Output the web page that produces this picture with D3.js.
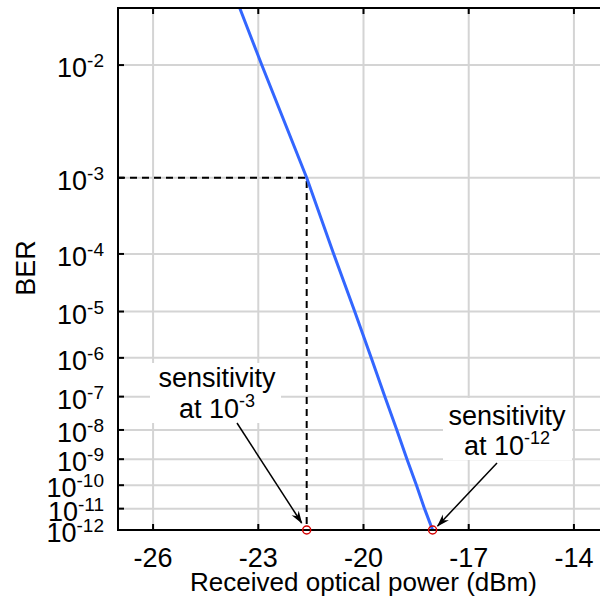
<!DOCTYPE html>
<html>
<head>
<meta charset="utf-8">
<script src="https://cdn.jsdelivr.net/npm/d3@7/dist/d3.min.js"></script>
<style>
    body { margin: 0; background: #fff; }
    text { font-family: Arial, "Liberation Sans", sans-serif; fill: #000; }
</style>
</head>
<body>
<div id="chart"></div>
<script>

// BER curve (BER = 10^-berExp)
const powerDbm = [-23.53, -22.90, -21.62, -20.85, -20.25, -19.78, -19.39, -19.05, -18.76, -18.49, -18.26, -18.03]
const berExp = [1.648, 2, 3, 4, 5, 6, 7, 8, 9, 10, 11, 12]

// sensitivity points (power at BER = 10^-sensExp)
const sensPower = [-21.62, -18.03]
const sensExp = [3, 12]
const sensLabels = ['-3', '-12']

// axes
const xTicks = [-26, -23, -20, -17, -14]
const xDomain = [-27, -13]
const yTickExp = [2, 3, 4, 5, 6, 7, 8, 9, 10, 11, 12]
const yTopExp = 1.648
const yBottomExp = 12

let margin = {top: 8, left: 118, bottom: 75}
let width = 491
let height = 605 - margin.top - margin.bottom

let svg = d3.select('#chart').append('svg')
    .attr('width', 600)
    .attr('height', 605)

let g = svg.append('g')
    .attr('transform', `translate(${margin.left}, ${margin.top})`)

// y is drawn on a log(-log(BER)) style scale
const tf = k => Math.log10(k - 0.35)

let x = d3.scaleLinear().domain(xDomain).range([0, width])
let y = d3.scaleLinear().domain([tf(yTopExp), tf(yBottomExp)]).range([0, height])
let yb = k => y(tf(k))

let defs = svg.append('defs')

defs.append('clipPath')
    .attr('id', 'plotClip')
    .append('rect')
    .attr('width', width)
    .attr('height', height)

defs.append('marker')
    .attr('id', 'arrow')
    .attr('viewBox', '0 0 13 10')
    .attr('refX', 12)
    .attr('refY', 5)
    .attr('markerWidth', 13)
    .attr('markerHeight', 10)
    .attr('markerUnits', 'userSpaceOnUse')
    .attr('orient', 'auto')
    .append('path')
    .attr('d', 'M0,0.8 L13,5 L0,9.2 L4,5 Z')
    .attr('fill', '#000')

// grid
g.selectAll('.vgrid').data(xTicks).enter().append('line')
    .attr('class', 'vgrid')
    .attr('x1', d => x(d)).attr('x2', d => x(d))
    .attr('y1', 0).attr('y2', height)
    .attr('stroke', '#d4d4d4').attr('stroke-width', 2)

g.selectAll('.hgrid').data(yTickExp).enter().append('line')
    .attr('class', 'hgrid')
    .attr('x1', 0).attr('x2', width)
    .attr('y1', d => yb(d)).attr('y2', d => yb(d))
    .attr('stroke', '#d4d4d4').attr('stroke-width', 2)

// annotation layout (pixels inside the plot)
let notes = [
    {cx: 99, y1: 379, y2: 410, box: [32, 355, 131, 60], from: [119, 415], tip: [-5, -7]},
    {cx: 389, y1: 417, y2: 447, box: [325, 390, 129, 62], from: [379, 455], tip: [5, -4]}
]

g.selectAll('.noteBox').data(notes).enter().append('rect')
    .attr('class', 'noteBox')
    .attr('x', d => d.box[0]).attr('y', d => d.box[1])
    .attr('width', d => d.box[2]).attr('height', d => d.box[3])
    .attr('fill', '#fff')

// dashed guide to the 10^-3 point
g.append('path')
    .attr('d', `M0,${yb(sensExp[0])} H${x(sensPower[0])} V${height}`)
    .attr('fill', 'none')
    .attr('stroke', '#000')
    .attr('stroke-width', 2)
    .attr('stroke-dasharray', '7,5')

// curve
let line = d3.line()
    .x(d => x(d))
    .y((d, i) => yb(berExp[i]))

g.append('path')
    .datum(powerDbm)
    .attr('clip-path', 'url(#plotClip)')
    .attr('d', line)
    .attr('fill', 'none')
    .attr('stroke', '#3366ff')
    .attr('stroke-width', 3)

// frame
g.append('rect')
    .attr('width', width).attr('height', height)
    .attr('fill', 'none')
    .attr('stroke', '#000')
    .attr('stroke-width', 2)

// ticks
g.selectAll('.xtickB').data(xTicks).enter().append('line')
    .attr('x1', d => x(d)).attr('x2', d => x(d))
    .attr('y1', height).attr('y2', height - 6)
    .attr('stroke', '#000').attr('stroke-width', 2)

g.selectAll('.xtickT').data(xTicks).enter().append('line')
    .attr('x1', d => x(d)).attr('x2', d => x(d))
    .attr('y1', 0).attr('y2', 6)
    .attr('stroke', '#000').attr('stroke-width', 2)

g.selectAll('.ytick').data(yTickExp).enter().append('line')
    .attr('x1', 0).attr('x2', 6)
    .attr('y1', d => yb(d)).attr('y2', d => yb(d))
    .attr('stroke', '#000').attr('stroke-width', 2)

// tick labels
g.selectAll('.xlab').data(xTicks).enter().append('text')
    .attr('x', d => x(d))
    .attr('y', height + 37)
    .attr('text-anchor', 'middle')
    .attr('font-size', 27)
    .text(d => d)

let ylab = g.selectAll('.ylab').data(yTickExp).enter().append('text')
    .attr('x', -14)
    .attr('y', d => yb(d) + 12)
    .attr('text-anchor', 'end')
    .attr('font-size', 27)
ylab.append('tspan').text('10')
ylab.append('tspan').attr('dy', -10).attr('font-size', 19).text(d => '-' + d)

// axis titles
g.append('text')
    .attr('x', width / 2)
    .attr('y', height + 61)
    .attr('text-anchor', 'middle')
    .attr('font-size', 26)
    .text('Received optical power (dBm)')

g.append('text')
    .attr('transform', `translate(-83, ${height / 2 - 1}) rotate(-90)`)
    .attr('text-anchor', 'middle')
    .attr('font-size', 27)
    .text('BER')

// sensitivity markers on the power axis
g.selectAll('.sens').data(sensPower).enter().append('circle')
    .attr('cx', d => x(d))
    .attr('cy', yb(yBottomExp))
    .attr('r', 4)
    .attr('fill', 'none')
    .attr('stroke', '#d40000')
    .attr('stroke-width', 1.5)

// annotations
g.selectAll('.note1').data(notes).enter().append('text')
    .attr('x', d => d.cx).attr('y', d => d.y1)
    .attr('text-anchor', 'middle')
    .attr('font-size', 27)
    .text('sensitivity')

let note2 = g.selectAll('.note2').data(notes).enter().append('text')
    .attr('x', d => d.cx).attr('y', d => d.y2)
    .attr('text-anchor', 'middle')
    .attr('font-size', 27)
note2.append('tspan').text('at 10')
note2.append('tspan').attr('dy', -11).attr('font-size', 18).text((d, i) => sensLabels[i])

g.selectAll('.arrow').data(notes).enter().append('line')
    .attr('x1', d => d.from[0]).attr('y1', d => d.from[1])
    .attr('x2', (d, i) => x(sensPower[i]) + d.tip[0])
    .attr('y2', d => yb(yBottomExp) + d.tip[1])
    .attr('stroke', '#000')
    .attr('stroke-width', 1.5)
    .attr('marker-end', 'url(#arrow)')

</script>
</body>
</html>
